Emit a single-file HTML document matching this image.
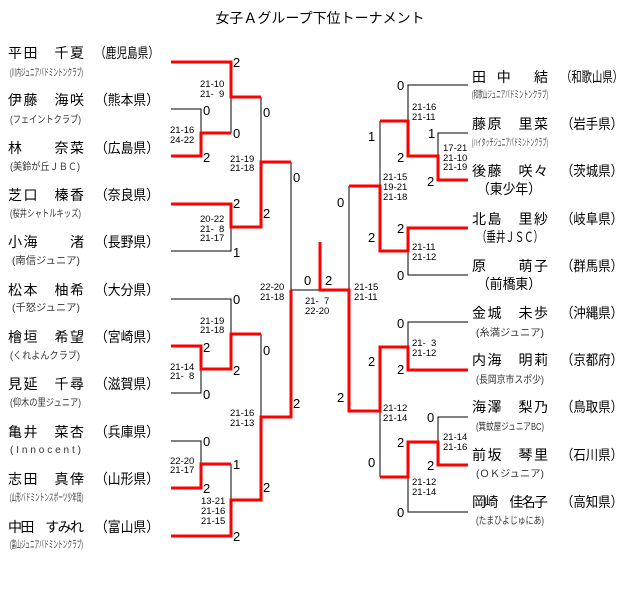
<!DOCTYPE html>
<html><head><meta charset="utf-8"><style>
html,body{margin:0;padding:0;background:#fff;}
svg{display:block;}
.n{font-family:"Liberation Sans","Noto Sans CJK JP",sans-serif;font-size:14px;fill:#000;}
.c{font-family:"Liberation Sans","Noto Sans CJK JP",sans-serif;font-size:10px;fill:#333;}
.s{font-family:"Liberation Sans",sans-serif;font-size:13px;fill:#000;}
.t{font-family:"Liberation Sans",sans-serif;font-size:9.5px;fill:#000;}
.b{fill:none;stroke:#000;stroke-width:1;}
.r{fill:none;stroke:#f00;stroke-width:3;}
</style></head><body>
<svg width="640" height="593" viewBox="0 0 640 593" xmlns="http://www.w3.org/2000/svg">
<text class="n" x="320" y="23" text-anchor="middle">女子Ａグループ下位トーナメント</text>

<path class="b" d="M231,97V133 M171,109H201V133 M261,97V162 M171,251H231V227 M291,162V290H320
M171,299H231V334 M171,393H201V369 M261,334V417 M171,441H201V464 M231,464V500
M349,290V186 M380,186V121 M408,121V85H468 M438,156V133H468 M408,251V275H468
M408,347V322H468 M380,411V477 M438,442V417H468 M408,477V512H468"/>
<path class="r" d="M171,62H231V97H261 M171,156H201V133H231 M171,204H231V227H261V162H291
M171,346H201V369H231V334H261 M171,488H201V464H231 M171,536H231V500H261V417H291V290
M320,242V290H349V411H380V347H408V370H468 M349,186H380V251H408V228H468
M380,121H408V156H438V180H468 M380,477H408V442H438V465H468"/>

<g class="n">
<text x="8" y="58" textLength="76" lengthAdjust="spacing">平田　千夏</text><text x="95" y="58" textLength="64" lengthAdjust="spacingAndGlyphs">（鹿児島県）</text>
<text x="8" y="105" textLength="76" lengthAdjust="spacing">伊藤　海咲</text><text x="95" y="105" textLength="64" lengthAdjust="spacingAndGlyphs">（熊本県）</text>
<text x="8" y="153" textLength="76" lengthAdjust="spacing">林　　奈菜</text><text x="95" y="153" textLength="64" lengthAdjust="spacingAndGlyphs">（広島県）</text>
<text x="8" y="200" textLength="76" lengthAdjust="spacing">芝口　榛香</text><text x="95" y="200" textLength="64" lengthAdjust="spacingAndGlyphs">（奈良県）</text>
<text x="8" y="247" textLength="76" lengthAdjust="spacing">小海　　渚</text><text x="95" y="247" textLength="64" lengthAdjust="spacingAndGlyphs">（長野県）</text>
<text x="8" y="295" textLength="76" lengthAdjust="spacing">松本　柚希</text><text x="95" y="295" textLength="64" lengthAdjust="spacingAndGlyphs">（大分県）</text>
<text x="8" y="342" textLength="76" lengthAdjust="spacing">檜垣　希望</text><text x="95" y="342" textLength="64" lengthAdjust="spacingAndGlyphs">（宮崎県）</text>
<text x="8" y="389" textLength="76" lengthAdjust="spacing">見延　千尋</text><text x="95" y="389" textLength="64" lengthAdjust="spacingAndGlyphs">（滋賀県）</text>
<text x="8" y="437" textLength="76" lengthAdjust="spacing">亀井　菜杏</text><text x="95" y="437" textLength="64" lengthAdjust="spacingAndGlyphs">（兵庫県）</text>
<text x="8" y="484" textLength="76" lengthAdjust="spacing">志田　真倖</text><text x="95" y="484" textLength="64" lengthAdjust="spacingAndGlyphs">（山形県）</text>
<text x="8" y="532" textLength="76" lengthAdjust="spacing">中田　すみれ</text><text x="95" y="532" textLength="64" lengthAdjust="spacingAndGlyphs">（富山県）</text>
</g>
<g class="c">
<text x="10" y="76" textLength="73" lengthAdjust="spacingAndGlyphs">(川内ジュニアバドミントンクラブ)</text>
<text x="10" y="123" textLength="71" lengthAdjust="spacingAndGlyphs">(フェイントクラブ)</text>
<text x="10" y="170" textLength="70" lengthAdjust="spacingAndGlyphs">(美鈴が丘ＪＢＣ)</text>
<text x="10" y="217" textLength="71" lengthAdjust="spacingAndGlyphs">(桜井シャトルキッズ)</text>
<text x="12" y="264" textLength="68" lengthAdjust="spacingAndGlyphs">(南信ジュニア)</text>
<text x="12" y="311" textLength="68" lengthAdjust="spacingAndGlyphs">(千怒ジュニア)</text>
<text x="10" y="359" textLength="70" lengthAdjust="spacingAndGlyphs">(くれよんクラブ)</text>
<text x="10" y="406" textLength="71" lengthAdjust="spacingAndGlyphs">(仰木の里ジュニア)</text>
<text x="10" y="453" textLength="71" lengthAdjust="spacing">(Innocent)</text>
<text x="10" y="501" textLength="73" lengthAdjust="spacingAndGlyphs">(山形バドミントンスポーツ少年団)</text>
<text x="10" y="548" textLength="73" lengthAdjust="spacingAndGlyphs">(富山ジュニアバドミントンクラブ)</text>
</g>

<g class="n">
<text x="472" y="82" textLength="76" lengthAdjust="spacing">田　中　　結</text><text x="561" y="82" textLength="62" lengthAdjust="spacingAndGlyphs">（和歌山県）</text>
<text x="472" y="129" textLength="76" lengthAdjust="spacing">藤原　里菜</text><text x="561" y="129" textLength="62" lengthAdjust="spacingAndGlyphs">（岩手県）</text>
<text x="472" y="176" textLength="76" lengthAdjust="spacing">後藤　咲々</text><text x="561" y="176" textLength="62" lengthAdjust="spacingAndGlyphs">（茨城県）</text>
<text x="477" y="194" textLength="64" lengthAdjust="spacingAndGlyphs">（東少年）</text>
<text x="472" y="224" textLength="76" lengthAdjust="spacing">北島　里紗</text><text x="561" y="224" textLength="62" lengthAdjust="spacingAndGlyphs">（岐阜県）</text>
<text x="477" y="242" textLength="66" lengthAdjust="spacingAndGlyphs">（垂井ＪＳＣ）</text>
<text x="472" y="271" textLength="76" lengthAdjust="spacing">原　　萌子</text><text x="561" y="271" textLength="62" lengthAdjust="spacingAndGlyphs">（群馬県）</text>
<text x="477" y="289" textLength="64" lengthAdjust="spacingAndGlyphs">（前橋東）</text>
<text x="472" y="318" textLength="76" lengthAdjust="spacing">金城　未歩</text><text x="561" y="318" textLength="62" lengthAdjust="spacingAndGlyphs">（沖縄県）</text>
<text x="472" y="365" textLength="76" lengthAdjust="spacing">内海　明莉</text><text x="561" y="365" textLength="62" lengthAdjust="spacingAndGlyphs">（京都府）</text>
<text x="472" y="412" textLength="76" lengthAdjust="spacing">海澤　梨乃</text><text x="561" y="412" textLength="62" lengthAdjust="spacingAndGlyphs">（鳥取県）</text>
<text x="472" y="460" textLength="76" lengthAdjust="spacing">前坂　琴里</text><text x="561" y="460" textLength="62" lengthAdjust="spacingAndGlyphs">（石川県）</text>
<text x="472" y="507" textLength="76" lengthAdjust="spacing">岡崎　佳名子</text><text x="561" y="507" textLength="62" lengthAdjust="spacingAndGlyphs">（高知県）</text>
</g>
<g class="c">
<text x="472" y="98" textLength="76" lengthAdjust="spacingAndGlyphs">(和歌山ジュニアバドミントンクラブ)</text>
<text x="472" y="146" textLength="76" lengthAdjust="spacingAndGlyphs">(ハイタッチジュニアバドミントンクラブ)</text>
<text x="476" y="336" textLength="68" lengthAdjust="spacingAndGlyphs">(糸満ジュニア)</text>
<text x="476" y="383" textLength="68" lengthAdjust="spacingAndGlyphs">(長岡京市スポ少)</text>
<text x="476" y="430" textLength="68" lengthAdjust="spacingAndGlyphs">(箕蚊屋ジュニアBC)</text>
<text x="476" y="477" textLength="68" lengthAdjust="spacingAndGlyphs">(ＯＫジュニア)</text>
<text x="476" y="524" textLength="68" lengthAdjust="spacingAndGlyphs">(たまひよじゅにあ)</text>
</g>

<g class="s">
<text x="233" y="67">2</text><text x="203" y="115">0</text><text x="233" y="138">0</text><text x="203" y="162">2</text>
<text x="263" y="117">0</text><text x="293" y="182">0</text><text x="233" y="208">2</text><text x="263" y="218">2</text><text x="233" y="257">1</text>
<text x="233" y="304">0</text><text x="203" y="352">2</text><text x="263" y="355">0</text><text x="233" y="375">2</text><text x="203" y="399">0</text>
<text x="293" y="408">2</text><text x="203" y="446">0</text><text x="233" y="469">1</text><text x="203" y="493">2</text><text x="263" y="492">2</text><text x="233" y="541">2</text>
<text x="304" y="285">0</text><text x="325" y="285">2</text>
<text x="397" y="90">0</text><text x="368" y="141">1</text><text x="428" y="138">1</text><text x="397" y="162">2</text><text x="427" y="186">2</text>
<text x="337" y="207">0</text><text x="397" y="233">2</text><text x="368" y="242">2</text><text x="397" y="280">0</text>
<text x="397" y="328">0</text><text x="368" y="366">2</text><text x="397" y="374">2</text><text x="337" y="402">2</text><text x="427" y="422">0</text>
<text x="397" y="447">2</text><text x="427" y="470">2</text><text x="368" y="467">0</text><text x="397" y="517">0</text>
</g>
<g class="t">
<text x="200" y="87">21-10</text><text x="200" y="97">21-&#160;&#160;9</text>
<text x="170" y="133">21-16</text><text x="170" y="143">24-22</text>
<text x="230" y="162">21-19</text><text x="230" y="171">21-18</text>
<text x="200" y="222">20-22</text><text x="200" y="232">21-&#160;&#160;8</text><text x="200" y="241">21-17</text>
<text x="260" y="290">22-20</text><text x="260" y="300">21-18</text>
<text x="200" y="324">21-19</text><text x="200" y="333">21-18</text>
<text x="170" y="370">21-14</text><text x="170" y="379">21-&#160;&#160;8</text>
<text x="230" y="416">21-16</text><text x="230" y="426">21-13</text>
<text x="170" y="464">22-20</text><text x="170" y="473">21-17</text>
<text x="201" y="504">13-21</text><text x="201" y="514">21-16</text><text x="201" y="524">21-15</text>
<text x="305" y="304">21-&#160;&#160;7</text><text x="305" y="314">22-20</text>
<text x="354" y="290">21-15</text><text x="354" y="300">21-11</text>
<text x="412" y="110">21-16</text><text x="412" y="120">21-11</text>
<text x="443" y="151">17-21</text><text x="443" y="161">21-10</text><text x="443" y="170">21-19</text>
<text x="383" y="180">21-15</text><text x="383" y="190">19-21</text><text x="383" y="200">21-18</text>
<text x="412" y="250">21-11</text><text x="412" y="260">21-12</text>
<text x="412" y="346">21-&#160;&#160;3</text><text x="412" y="356">21-12</text>
<text x="383" y="411">21-12</text><text x="383" y="421">21-14</text>
<text x="443" y="440">21-14</text><text x="443" y="450">21-16</text>
<text x="412" y="485">21-12</text><text x="412" y="495">21-14</text>
</g>
</svg>
</body></html>
